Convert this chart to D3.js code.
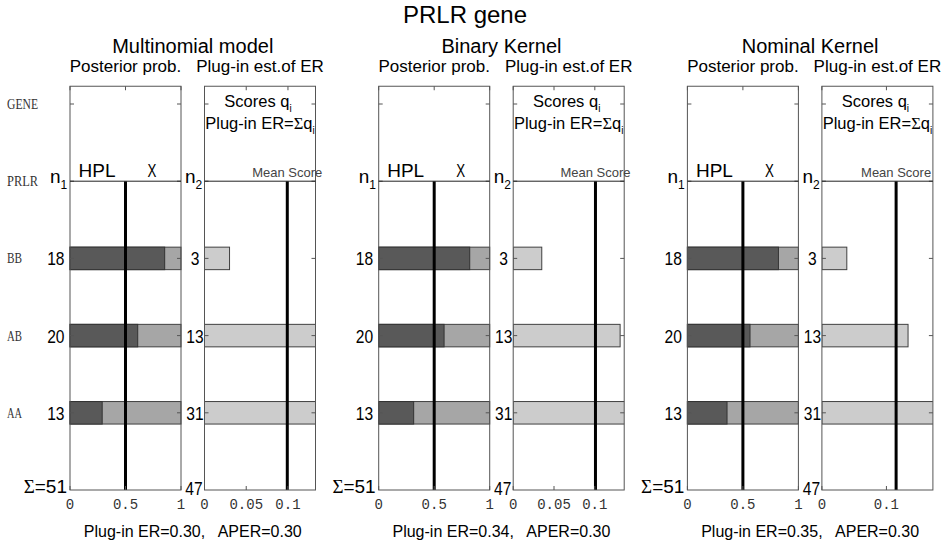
<!DOCTYPE html>
<html>
<head>
<meta charset="utf-8">
<script src="https://d3js.org/d3.v7.min.js"></script>
<style>
  * { margin: 0; padding: 0; }
  html, body { width: 949px; height: 547px; background: #fff; overflow: hidden; }
  svg { display: block; font-family: 'Liberation Sans', Arial, sans-serif; }
  .mono { font-family: 'Liberation Mono', 'Courier New', monospace; }
</style>
</head>
<body>
<div id="chart"></div>
<script>
// rows of the y axis, top to bottom
const rowLabels = ['GENE', 'PRLR', 'BB', 'AB', 'AA'];
const genotypes = ['BB', 'AB', 'AA'];
const n1 = [18, 20, 13];
const n2 = [3, 13, 31];
const n1Total = 51;
const n2Total = 47;

const models = ['Multinomial model', 'Binary Kernel', 'Nominal Kernel'];
// posterior prob. of HPL per genotype (rest of bar is X)
const postHPL = [
  [0.853, 0.61, 0.29],
  [0.82, 0.589, 0.315],
  [0.82, 0.564, 0.357]
];
// scores q_i per genotype
const scores = [
  [0.030, 0.14, 0.14],
  [0.035, 0.131, 0.14],
  [0.0386, 0.1335, 0.18]
];
const meanScores = [0.0992, 0.1008, 0.115];
const erMax = [0.133, 0.136, 0.172];
const postTicks = [0, 0.5, 1];
const erTicks = [[0, 0.05, 0.1], [0, 0.05, 0.1], [0, 0.1]];
const plugInER = ['0.30', '0.34', '0.35'];
const aper = ['0.30', '0.30', '0.30'];

const W = 949, H = 547;
const svg = d3.select('#chart').append('svg').attr('width', W).attr('height', H);

// shared vertical scale: row index -> y
const y = d3.scaleLinear().domain([0, 5]).range([104, 490]);
const yTop = y(-0.23), yBottom = y(5);
const barH = 22.5;
const panelW = 111, groupStep = 308.7, erOffset = 134.5;
const frameCol = '#555';

// the digits in the original are narrower than Arial
function squeeze(sel, f) {
  sel.each(function() {
    const len = this.getComputedTextLength();
    d3.select(this).attr('textLength', len * f).attr('lengthAdjust', 'spacingAndGlyphs');
  });
}

svg.append('text')
  .attr('x', 465).attr('y', 23)
  .attr('text-anchor', 'middle')
  .attr('font-size', 24)
  .text('PRLR gene');

// row labels on the far left
svg.selectAll('.rowlab').data(rowLabels).enter().append('text')
  .attr('x', 7).attr('y', (d, i) => y(i) + 5)
  .attr('font-family', "'Liberation Serif', serif")
  .attr('font-size', 14).attr('fill', '#333')
  .attr('textLength', d => d.length * 8 - 1)
  .attr('lengthAdjust', 'spacingAndGlyphs')
  .text(d => d);

function drawFrame(g, x0, ticksX, xs, rows) {
  g.append('rect')
    .attr('x', x0).attr('y', yTop)
    .attr('width', panelW).attr('height', yBottom - yTop)
    .attr('fill', 'none').attr('stroke', frameCol).attr('stroke-width', 1);
  // inward ticks like matlab
  ticksX.forEach(t => {
    const xx = xs(t);
    g.append('line').attr('x1', xx).attr('x2', xx).attr('y1', yTop).attr('y2', yTop + 4).attr('stroke', frameCol);
    g.append('line').attr('x1', xx).attr('x2', xx).attr('y1', yBottom).attr('y2', yBottom - 4).attr('stroke', frameCol);
  });
  rows.forEach(r => {
    g.append('line').attr('x1', x0).attr('x2', x0 + 4).attr('y1', y(r)).attr('y2', y(r)).attr('stroke', frameCol);
    g.append('line').attr('x1', x0 + panelW - 4).attr('x2', x0 + panelW).attr('y1', y(r)).attr('y2', y(r)).attr('stroke', frameCol);
  });
  // PRLR separator
  g.append('line').attr('x1', x0).attr('x2', x0 + panelW)
    .attr('y1', y(1)).attr('y2', y(1)).attr('stroke', '#222');
}

function addSub(sel, main, sub, mainSize, subSize) {
  sel.append('tspan').attr('font-size', mainSize).text(main);
  sel.append('tspan').attr('font-size', subSize).attr('dy', subSize * 0.5).text(sub);
}

models.forEach((model, gi) => {
  const g = svg.append('g');
  const px = 70 + gi * groupStep;
  const ex = px + erOffset;

  const xp = d3.scaleLinear().domain([0, 1]).range([px, px + panelW]);
  const xe = d3.scaleLinear().domain([0, erMax[gi]]).range([ex, ex + panelW]);

  // titles
  g.append('text').attr('x', (px + ex + panelW) / 2).attr('y', 53)
    .attr('text-anchor', 'middle').attr('font-size', 20).text(model);
  g.append('text').attr('x', px + panelW / 2).attr('y', 72)
    .attr('text-anchor', 'middle').attr('font-size', 17).text('Posterior prob.');
  g.append('text').attr('x', ex + panelW / 2).attr('y', 72)
    .attr('text-anchor', 'middle').attr('font-size', 17).text('Plug-in est.of ER');

  // posterior bars
  genotypes.forEach((gt, i) => {
    const yc = y(i + 2);
    g.append('rect')
      .attr('x', xp(0)).attr('y', yc - barH / 2)
      .attr('width', xp(1) - xp(0)).attr('height', barH)
      .attr('fill', '#a6a6a6').attr('stroke', '#404040');
    g.append('rect')
      .attr('x', xp(0)).attr('y', yc - barH / 2)
      .attr('width', xp(postHPL[gi][i]) - xp(0)).attr('height', barH)
      .attr('fill', '#595959').attr('stroke', '#333');
    g.append('text')
      .attr('x', px - 5.5).attr('y', yc + 7)
      .attr('text-anchor', 'end').attr('font-size', 19)
      .text(n1[i])
      .call(squeeze, 0.82);
  });

  // score bars, clipped at the panel edge
  const clipId = 'clip' + gi;
  g.append('clipPath').attr('id', clipId).append('rect')
    .attr('x', ex).attr('y', yTop).attr('width', panelW).attr('height', yBottom - yTop);
  const eg = g.append('g').attr('clip-path', `url(#${clipId})`);
  genotypes.forEach((gt, i) => {
    const yc = y(i + 2);
    eg.append('rect')
      .attr('x', xe(0)).attr('y', yc - barH / 2)
      .attr('width', xe(scores[gi][i]) - xe(0)).attr('height', barH)
      .attr('fill', '#cccccc').attr('stroke', '#404040');
    g.append('text')
      .attr('x', px + panelW + 14).attr('y', yc + 7)
      .attr('text-anchor', 'middle').attr('font-size', 19)
      .text(n2[i])
      .call(squeeze, 0.82);
  });

  // HPL threshold and mean score lines
  g.append('line').attr('x1', xp(0.5)).attr('x2', xp(0.5))
    .attr('y1', y(1)).attr('y2', yBottom).attr('stroke', '#000').attr('stroke-width', 3);
  eg.append('line').attr('x1', xe(meanScores[gi])).attr('x2', xe(meanScores[gi]))
    .attr('y1', y(1)).attr('y2', yBottom).attr('stroke', '#000').attr('stroke-width', 3);

  drawFrame(g, px, postTicks, xp, [0, 1, 2, 3, 4]);
  drawFrame(g, ex, erTicks[gi], xe, [0, 1, 2, 3, 4]);

  // panel texts
  g.append('text').attr('x', px + 27).attr('y', y(1) - 4)
    .attr('text-anchor', 'middle').attr('font-size', 19).text('HPL');
  g.append('text').attr('x', px + 82).attr('y', y(1) - 4)
    .attr('text-anchor', 'middle').attr('font-size', 19).text('X')
    .call(squeeze, 0.7);
  g.append('text').attr('x', xe(meanScores[gi])).attr('y', y(1) - 4)
    .attr('text-anchor', 'middle').attr('font-size', 13).attr('fill', '#444')
    .text('Mean Score');
  g.append('text').attr('x', ex + panelW / 2 - 2).attr('y', 107)
    .attr('text-anchor', 'middle')
    .call(s => addSub(s, 'Scores q', 'i', 16.5, 10));
  const t2 = g.append('text').attr('x', ex + panelW / 2).attr('y', 129)
    .attr('text-anchor', 'middle');
  t2.append('tspan').attr('font-size', 16.5).text('Plug-in ER=');
  t2.append('tspan').attr('font-size', 16.5).attr('font-family', 'Liberation Serif').text('Σ');
  t2.append('tspan').attr('font-size', 16.5).text('q');
  t2.append('tspan').attr('font-size', 10).attr('dy', 5).text('i');

  // n labels
  g.append('text').attr('x', px - 20).attr('y', y(1) + 2)
    .call(s => addSub(s, 'n', '1', 19, 12));
  g.append('text').attr('x', px + panelW + 4).attr('y', y(1) + 2)
    .call(s => addSub(s, 'n', '2', 19, 12));

  // totals
  const st = g.append('text').attr('x', px - 3).attr('y', yBottom + 3)
    .attr('text-anchor', 'end').attr('font-size', 19);
  st.append('tspan').attr('font-family', 'Liberation Serif').text('Σ');
  st.append('tspan').text('=' + n1Total);
  g.append('text').attr('x', px + panelW + 13).attr('y', yBottom + 5)
    .attr('text-anchor', 'middle').attr('font-size', 19).text(n2Total)
    .call(squeeze, 0.82);

  // x tick labels
  g.selectAll('.tp').data(postTicks).enter().append('text')
    .attr('class', 'mono').attr('x', d => xp(d)).attr('y', yBottom + 19)
    .attr('text-anchor', 'middle').attr('font-size', 14).attr('fill', '#333')
    .text(d => d);
  g.selectAll('.te').data(erTicks[gi]).enter().append('text')
    .attr('class', 'mono').attr('x', d => xe(d)).attr('y', yBottom + 19)
    .attr('text-anchor', 'middle').attr('font-size', 14).attr('fill', '#333')
    .text(d => d);

  g.append('text').attr('x', (px + ex + panelW) / 2).attr('y', 537)
    .attr('text-anchor', 'middle').attr('font-size', 16)
    .attr('xml:space', 'preserve')
    .text(`Plug-in ER=${plugInER[gi]},   APER=${aper[gi]}`);
});
</script>
</body>
</html>
